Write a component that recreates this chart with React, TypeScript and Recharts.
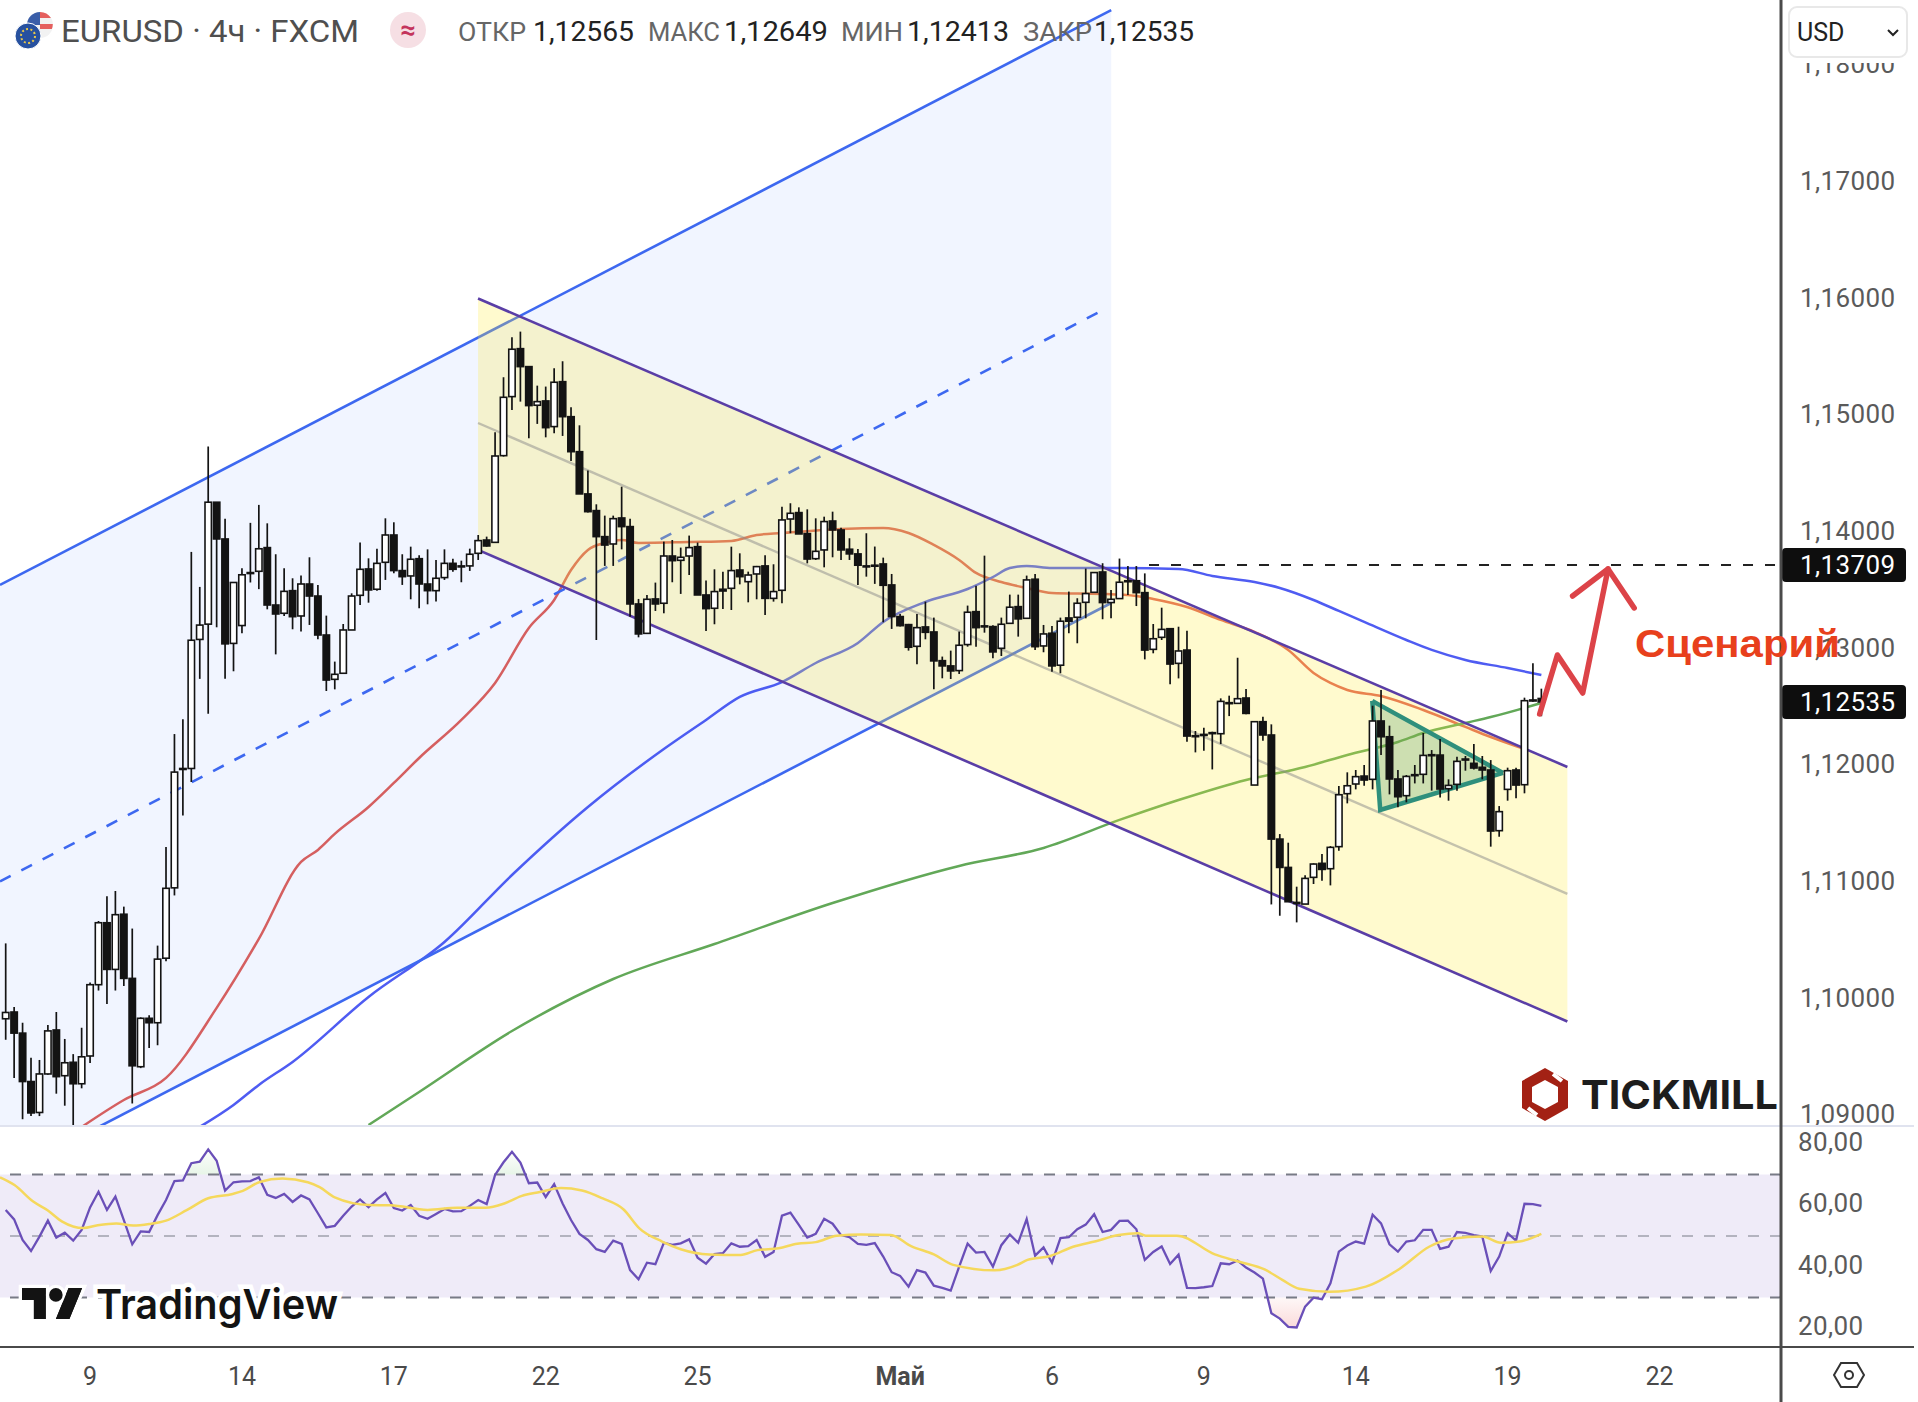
import React from 'react';
import {
  ComposedChart, Bar, Line, Area, XAxis, YAxis, ReferenceArea, ReferenceLine,
} from 'recharts';

// all prices below are in 1e-5 units, [open, high, low, close]
const candles = [
  [109820,110466,109640,109874],[109878,109920,109313,109697],[109697,109786,108959,109282],[109282,109486,108986,109013],
  [109017,109467,108986,109347],[109347,109766,109340,109716],[109724,109878,109178,109324],[109332,109647,109075,109443],
  [109447,109517,108880,109263],[109263,109743,109224,109494],[109501,110131,109440,110112],[110112,110658,110062,110643],
  [110643,110869,109947,110243],[110243,110915,110062,110712],[110716,110781,110101,110166],[110166,110593,109094,109417],
  [109409,109832,109397,109824],[109824,109851,109570,109786],[109786,110447,109593,110331],[110339,111292,110312,110938],
  [110942,112260,110877,111934],[111965,112387,111561,111957],[111965,113821,111849,113064],[113071,113521,112733,113194],
  [113202,114724,112433,114247],[114247,114247,113175,113932],[113932,114105,112733,113033],[113037,113559,112798,113559],
  [113190,113682,113125,113625],[113644,114070,113559,113636],[113655,114224,113502,113848],[113858,114066,113329,113366],
  [113366,113801,112943,113289],[113295,113681,113272,113483],[113489,113595,113158,113266],[113272,113618,113138,113546],
  [113546,113775,113195,113443],[113443,113538,113072,113109],[113109,113275,112629,112723],[112729,112881,112643,112772],
  [112781,113203,112781,113152],[113152,113466,113152,113443],[113449,113901,113366,113672],[113675,113766,113386,113495],
  [113501,113849,113489,113723],[113732,114109,113581,113966],[113966,114075,113638,113661],[113661,113801,113538,113609],
  [113615,113866,113415,113758],[113763,113792,113338,113546],[113546,113843,113372,113489],[113489,113752,113395,113595],
  [113601,113843,113581,113723],[113723,113763,113652,113672],[113701,113746,113561,113701],[113701,113849,113658,113801],
  [113809,113966,113752,113918],[113923,113952,113866,113872],[113903,114846,113901,114643],[114646,115318,114638,115146],
  [115152,115660,115038,115558],[115563,115709,115109,115409],[115409,115409,114795,115075],[115078,115246,114918,115109],
  [115115,115238,114803,114886],[114895,115395,114838,115275],[115280,115455,114815,114980],[114980,115060,114600,114680],
  [114680,114906,114318,114318],[114318,114518,114158,114166],[114175,114229,113066,113952],[113952,114132,113701,113880],
  [113889,114132,113701,114106],[114112,114380,113843,114038],[114038,114106,113266,113375],[113375,113418,113089,113118],
  [113123,113452,113118,113415],[113418,113558,113315,113375],[113381,113909,113295,113786],[113786,113923,113561,113746],
  [113749,113858,113461,113775],[113786,113961,113623,113858],[113866,113901,113452,113452],[113452,113575,113143,113335],
  [113338,113672,113201,113481],[113501,113652,113332,113486],[113509,113866,113323,113661],[113666,113809,113543,113609],
  [113566,113652,113389,113623],[113632,113701,113415,113695],[113701,113792,113281,113423],[113423,113715,113395,113481],
  [113492,114209,113381,114095],[114103,114238,113981,114152],[114158,114203,113975,113975],[113978,114186,113723,113760],
  [113763,114109,113752,113826],[113838,114123,113689,114081],[114086,114166,113775,114009],[114009,114029,113752,113838],
  [113844,113938,113752,113804],[113804,113847,113538,113707],[113701,113981,113609,113698],[113707,113867,113547,113704],
  [113718,113772,113218,113535],[113538,113632,113161,113267],[113267,113289,113181,113189],[113198,113204,112975,113004],
  [113012,113289,112858,113172],[113178,113395,113072,113132],[113135,113258,112644,112887],[112889,112924,112738,112844],
  [112844,112975,112732,112801],[112804,113138,112775,113021],[113027,113361,113009,113304],[113309,113532,113009,113172],
  [113187,113789,113129,113181],[113181,113192,112909,112964],[112995,113258,112929,113201],[113209,113455,113209,113347],
  [113352,113455,113095,113247],[113252,113618,113252,113581],[113587,113632,112981,113009],[113015,113195,112961,113118],
  [113124,113187,112795,112844],[112850,113258,112781,113227],[113255,113481,113124,113227],[113261,113424,113038,113381],
  [113389,113678,113252,113464],[113475,113644,113475,113644],[113649,113724,113244,113387],[113387,113495,113252,113415],
  [113421,113764,113418,113561],[113574,113700,113452,113574],[113574,113700,113357,113472],[113472,113637,112900,112980],
  [112986,113203,112952,113077],[113089,113343,113066,113157],[113163,113169,112686,112860],[112866,113180,112737,112972],
  [112980,113146,112194,112243],[112246,112286,112103,112240],[112257,112315,112117,112255],[112272,112280,111957,112268],
  [112263,112566,112174,112540],[112529,112589,112414,112523],[112523,112914,112523,112563],[112569,112646,112429,112437],
  [111823,112372,111823,112366],[112366,112409,112203,112252],[112252,112343,110800,111360],[111360,111403,110703,111117],
  [111117,111329,110823,110823],[110817,110952,110646,110813],[110803,111049,110803,111023],[111032,111152,110975,111146],
  [111152,111232,111003,111100],[111106,111300,110963,111289],[111295,111815,111260,111740],[111749,111932,111666,111817],
  [111832,111952,111786,111895],[111900,111995,111817,111866],[111872,112503,111786,112372],[112372,112637,112080,112237],
  [112237,112332,111743,111875],[111875,111952,111632,111723],[111732,111909,111675,111897],[111912,111995,111837,111908],
  [111915,112269,111837,112077],[112083,112123,111775,112080],[112080,112217,111717,111789],[111792,111872,111689,111820],
  [111829,112066,111775,112026],[112046,112072,111946,112042],[112009,112175,111957,111969],[111975,112072,111872,111952],
  [111952,112037,111295,111429],[111432,111643,111380,111595],[111786,111972,111689,111946],[111952,111972,111709,111823],
  [111826,112572,111752,112546],[112552,112866,112537,112546],[112565,112649,112413,112535],
];

// moving averages, [candle index, price]
const maFast = [
  [9,108893],[14,109124],[19,109313],[25,109913],[30,110504],[35,111164],[37,111267],[39,111404],[43,111635],[46,111841],[49,112055],
  [54,112381],[58,112698],[62,113169],[65,113409],[67,113666],[69,113838],[71,113898],[73,113923],[75,113898],[81,113906],
  [86,113915],[89,113966],[92,113983],[99,114018],[104,114026],[107,113983],[110,113881],[113,113752],[115,113641],[118,113563],
  [121,113512],[124,113469],[130,113461],[134,113443],[136,113418],[140,113349],[144,113238],[148,113135],[152,112981],[155,112784],
  [157,112698],[159,112638],[163,112586],[168,112466],[173,112321],[176,112235],[180,112132],
];
const maMid = [
  [23,108893],[27,109081],[30,109253],[34,109450],[43,110007],[52,110478],[60,111052],[69,111635],[78,112132],[83,112381],
  [87,112578],[92,112706],[96,112869],[101,113041],[104,113221],[109,113392],[114,113503],[117,113606],[119,113683],[121,113701],
  [124,113683],[132,113683],[139,113675],[143,113615],[148,113563],[151,113512],[155,113409],[158,113315],[161,113221],[166,113066],
  [169,112981],[173,112895],[178,112826],[182,112766],
];
const maSlow = [
  [43,108910],[49,109193],[60,109715],[72,110161],[84,110461],[98,110812],[113,111130],[123,111284],[132,111524],[139,111695],
  [147,111867],[154,111978],[159,112081],[165,112192],[168,112269],[173,112355],[176,112406],[182,112526],
];

// drawings, [candle index, price]
const blueUpper = [[-0.676,113538],[131.02,118465]];
const blueMiddle = [[-0.676,110997],[129.84,115886]];
const blueLower = [[-0.676,108456],[131.02,113383]];
const yellowUpper = [[55.98,115993],[185.08,111978]];
const yellowMiddle = [[55.98,114926],[185.08,110890]];
const yellowLower = [[55.98,113838],[185.08,109797]];
const triangle = [[161.96,112544,112544],[162.9,111609,112506],[177.45,111927,111927]];
const levelLine = [[135.5,113709],[210.4,113709]];
const arrowBody = [[181.8,112432],[183.9,112938],[186.9,112612],[189.9,113675]];
const arrowHead = [[185.7,113443],[189.9,113675],[193,113341]];

const priceTicks = [1.09,1.10,1.11,1.12,1.13,1.14,1.15,1.16,1.17,1.18];
const priceBadges = [1.13709,1.12535];

// RSI pane
const rsi = [
  58.5,55.4,48.7,45.1,49.8,55.0,49.5,51.1,48.5,52.0,59.3,64.4,58.5,62.8,55.2,47.3,51.5,51.3,56.8,61.7,
  67.9,68.1,73.7,74.2,78.2,74.5,64.8,67.5,67.8,67.9,69.1,63.4,62.4,63.7,61.1,63.2,61.9,57.4,52.8,53.3,
  56.6,59.6,61.9,59.4,61.9,64.0,59.1,58.3,60.1,56.6,55.6,57.2,58.8,58.0,58.1,59.8,61.7,60.4,69.9,74.0,
  77.4,73.9,67.2,67.4,62.7,66.9,60.6,55.2,50.7,48.7,45.7,44.8,48.5,47.4,38.9,35.9,41.3,40.8,47.8,47.1,
  47.6,48.9,42.9,41.0,44.1,44.4,47.6,46.5,46.7,48.7,43.2,44.8,56.6,57.6,53.6,49.5,50.7,55.6,54.0,50.3,
  49.6,47.4,47.1,47.7,43.3,38.2,37.0,33.5,38.9,38.1,33.8,33.1,32.2,40.0,47.5,44.6,44.8,40.0,47.0,50.5,
  47.8,55.5,43.6,46.3,41.3,49.3,49.6,52.2,53.7,57.1,51.3,52.0,54.9,55.0,52.2,42.2,44.8,46.6,40.9,43.9,
  33.1,33.0,33.3,33.7,41.1,40.8,42.0,39.7,38.1,36.1,24.8,23.1,20.4,20.2,27.0,29.9,29.4,34.6,44.9,46.9,
  48.2,47.5,56.9,54.1,47.3,44.9,48.2,48.6,52.0,52.0,45.8,46.5,51.3,51.0,50.3,49.8,38.6,43.3,50.9,48.5,
  60.5,60.4,59.8,
];
const rsiMa = [
  [-0.676,69.1],[1.04,66.6],[3.26,61.2],[5,58.3],[6.7,54.7],[9.2,52.6],[10.9,53.5],[13.1,54.1],[15.1,53.4],[17,53.9],
  [19,55.0],[21.5,58.5],[24,62.3],[26.9,63.7],[28.1,64.7],[30.1,67.6],[32.8,68.7],[35.8,67.5],[37.2,65.9],[39,62.6],
  [43.1,60.1],[45.6,60.0],[50,58.5],[53.5,59.2],[56.9,59.2],[59.1,60.6],[61.1,63.0],[63.3,64.3],[65.8,65.6],[68.3,64.8],
  [70.7,62.3],[73.2,58.7],[75.1,52.5],[77.8,48.2],[80,45.7],[83.4,44.0],[87.1,43.8],[89.1,45.4],[91.6,46.0],[93.8,47.5],
  [96,48.0],[98.5,50.1],[101.4,50.5],[104.9,50.3],[107.3,46.7],[110,44.0],[112.3,40.6],[117.2,38.8],[119.9,40.6],[121.1,42.2],
  [123.8,43.5],[126.5,46.5],[129.2,48.3],[131.9,50.3],[134.2,50.9],[135.1,50.1],[138.8,50.1],[143.3,44.0],[146.2,41.6],[149.2,39.1],
  [151.3,35.7],[153.3,32.8],[156.9,31.8],[161.2,33.5],[165.3,39.5],[168.7,46.5],[171.6,49.2],[175,49.8],[177.2,47.8],[179.4,48.2],
  [182,50.7],
];
const overbought1 = [[21.34,70],[22,73.7],[23,74.2],[24,78.2],[25,74.5],[25.47,70]];
const overbought2 = [[58.01,70],[59,74.0],[60,77.4],[61,73.9],[61.58,70]];
const oversold = [[149.54,30],[150,24.8],[151,23.1],[152,20.4],[153,20.2],[154,27.0],[155,29.9],[156,29.4],[156.1,30]];
const rsiTicks = [20,40,60,80];

const timeTicks = [10,28,46,64,82,106,124,142,160,178,196];
const timeLabels = ['9','14','17','22','25','Май','6','9','14','19','22'];

const px = (v: number) => v / 100000;
const points = (list: number[][]) => list.map(([x, v]) => ({ x, v: px(v) }));
const plain = (list: number[][]) => list.map(([x, v]) => ({ x, v }));

const candleRows = candles.map(([o, h, l, c], i) => ({
  x: i, open: px(o), high: px(h), low: px(l), close: px(c), range: [px(l), px(h)],
}));
const rsiRows = rsi.map((v, x) => ({ x, v }));
const blueBand = blueUpper.map(([x, v], i) => ({ x, range: [px(blueLower[i][1]), px(v)] }));
const yellowBand = yellowUpper.map(([x, v], i) => ({ x, range: [px(yellowLower[i][1]), px(v)] }));
const triangleRows = triangle.map(([x, a, b]) => ({ x, range: [px(a), px(b)] }));
const fillHigh = (list: number[][]) => list.map(([x, v]) => ({ x, range: [70, v] }));
const fillLow = (list: number[][]) => list.map(([x, v]) => ({ x, range: [v, 30] }));

const FONT = 'Roboto, sans-serif';
const AXIS_X = 1781;
const X_DOMAIN = [-0.676, 210.4];

function Candle(props: any) {
  const { x, y, width, height, payload } = props;
  const { open, high, low, close } = payload;
  const perUnit = height / (high - low || 1);
  const top = y + (high - Math.max(open, close)) * perUnit;
  const bottom = y + (high - Math.min(open, close)) * perUnit;
  const cx = x + width / 2;
  const up = close >= open;
  return (
    <g>
      <line x1={cx} x2={cx} y1={y} y2={y + height} stroke="#131313" strokeWidth={1.7} />
      <rect x={cx - 3.2} y={top} width={6.4} height={Math.max(bottom - top, 1)}
        fill={up ? '#ffffff' : '#131313'} stroke="#131313" strokeWidth={1.6} />
    </g>
  );
}

function PriceTick(props: any) {
  const { y, payload } = props;
  const text = payload.value.toFixed(5).replace('.', ',');
  if (priceBadges.includes(payload.value)) {
    return (
      <g>
        <rect x={AXIS_X + 1} y={y - 17} width={124} height={34} rx={4} fill="#0e0e0e" />
        <text x={AXIS_X + 19} y={y + 9} fontFamily={FONT} fontSize={26} fill="#ffffff" letterSpacing={0.4}>{text}</text>
      </g>
    );
  }
  return <text x={AXIS_X + 19} y={y + 9} fontFamily={FONT} fontSize={26} fill="#5a5a5a" letterSpacing={0.4}>{text}</text>;
}

function RsiTick(props: any) {
  const { y, payload } = props;
  return (
    <text x={AXIS_X + 17} y={y + 7} fontFamily={FONT} fontSize={26} fill="#5a5a5a" letterSpacing={0.4}>
      {payload.value.toFixed(2).replace('.', ',')}
    </text>
  );
}

function TimeTick(props: any) {
  const { x, payload } = props;
  const label = timeLabels[timeTicks.indexOf(payload.value)];
  return (
    <text x={x} y={258} textAnchor="middle" fontFamily={FONT} fontSize={25}
      fontWeight={label === 'Май' ? 700 : 400} fill="#4a4a4a">{label}</text>
  );
}

function Overlay() {
  return (
    <svg width={1918} height={1402} style={{ position: 'absolute', left: 0, top: 0, pointerEvents: 'none' }}>
      {/* pane borders */}
      <line x1={0} x2={1914} y1={1126} y2={1126} stroke="#e0e3ef" strokeWidth={2} />
      <line x1={0} x2={1914} y1={1347} y2={1347} stroke="#4a4a4a" strokeWidth={2} />
      <line x1={AXIS_X} x2={AXIS_X} y1={0} y2={1402} stroke="#4a4a4a" strokeWidth={3} />

      {/* symbol icon */}
      <circle cx={40} cy={25} r={13} fill="#f2f2f2" />
      <path d="M40 12a13 13 0 0 1 11 6H40zM40 24h12.800a13 13 0 0 1-1 5H40z" fill="#e5605e" />
      <path d="M27 25a13 13 0 0 1 13-13v13z" fill="#3a5ea8" />
      <circle cx={28} cy={36} r={13} fill="#27519f" stroke="#ffffff" strokeWidth={1} />
      <circle cx={28} cy={36} r={7} fill="none" stroke="#e9c84a" strokeWidth={2} strokeDasharray="2 2.4" />

      {/* header */}
      <text x={61} y={42} textLength={298} lengthAdjust="spacingAndGlyphs" fontFamily={FONT} fontSize={31} fill="#4f4f4f">EURUSD · 4ч · FXCM</text>
      <circle cx={408} cy={30} r={18} fill="#f6dfe4" />
      <text x={408} y={39} textAnchor="middle" fontFamily={FONT} fontSize={27} fontWeight={700} fill="#c4345c">≈</text>
      <text x={458} y={41} textLength={68} lengthAdjust="spacingAndGlyphs" fontFamily={FONT} fontSize={26} fill="#666666">ОТКР</text>
      <text x={533} y={41} textLength={101} lengthAdjust="spacingAndGlyphs" fontFamily={FONT} fontSize={27} fill="#222222">1,12565</text>
      <text x={648} y={41} textLength={72} lengthAdjust="spacingAndGlyphs" fontFamily={FONT} fontSize={26} fill="#666666">МАКС</text>
      <text x={724} y={41} textLength={104} lengthAdjust="spacingAndGlyphs" fontFamily={FONT} fontSize={27} fill="#222222">1,12649</text>
      <text x={841} y={41} textLength={62} lengthAdjust="spacingAndGlyphs" fontFamily={FONT} fontSize={26} fill="#666666">МИН</text>
      <text x={907} y={41} textLength={102} lengthAdjust="spacingAndGlyphs" fontFamily={FONT} fontSize={27} fill="#222222">1,12413</text>
      <text x={1023} y={41} textLength={69} lengthAdjust="spacingAndGlyphs" fontFamily={FONT} fontSize={26} fill="#666666">ЗАКР</text>
      <text x={1094} y={41} textLength={100} lengthAdjust="spacingAndGlyphs" fontFamily={FONT} fontSize={27} fill="#222222">1,12535</text>

      {/* currency box */}
      <rect x={1785} y={0} width={126} height={63} fill="#ffffff" />
      <rect x={1789} y={7} width={118} height={50} rx={8} fill="#ffffff" stroke="#e8e8e8" strokeWidth={2} />
      <text x={1797} y={41} fontFamily={FONT} fontSize={25} fill="#222222">USD</text>
      <path d="M1888 30l5 5 5-5" fill="none" stroke="#222222" strokeWidth={2} />

      {/* scenario label */}
      <text x={1635} y={657} textLength={205} lengthAdjust="spacingAndGlyphs" fontFamily="'Liberation Sans', sans-serif" fontSize={38} fontWeight={700} fill="#e8401c">Сценарий</text>

      {/* tickmill */}
      <g transform="translate(1522,1068)">
        <polygon points="23,0 46,13 46,40 23,53 0,40 0,13" fill="#a32114" />
        <polygon points="23,12 36,19 36,34 23,41 10,34 10,19" fill="#ffffff" />
        <path d="M31 6L40 13M6 40L15 47" stroke="#ffffff" strokeWidth={4} />
      </g>
      <text x={1581} y={1109} textLength={197} lengthAdjust="spacingAndGlyphs" fontFamily="Inter, sans-serif" fontSize={40} fontWeight={700} fill="#1d1d1d">TICKMILL</text>

      {/* tradingview */}
      <svg x={18} y={1284} width={69} height={39} viewBox="-2.400 1.600 40.800 22.800" preserveAspectRatio="none">
        <path d="M14 22H7V11H0V4h14v18zM28 22h-8l7.500-18h8L28 22z" fill="#131313" stroke="#ffffff" strokeWidth={4} paintOrder="stroke" />
        <circle cx={20} cy={8} r={4} fill="#131313" stroke="#ffffff" strokeWidth={4} paintOrder="stroke" />
        <path d="M14 22H7V11H0V4h14v18zM28 22h-8l7.500-18h8L28 22z" fill="#131313" />
      </svg>
      <text x={96} y={1319} textLength={242} lengthAdjust="spacingAndGlyphs" fontFamily="Inter, sans-serif" fontSize={41} fontWeight={600} fill="#131313" stroke="#ffffff" strokeWidth={9} paintOrder="stroke">TradingView</text>

      {/* settings icon */}
      <polygon points="1834,1375 1841,1363 1857,1363 1864,1375 1857,1387 1841,1387" fill="none" stroke="#333333" strokeWidth={2} />
      <circle cx={1849} cy={1375} r={4} fill="none" stroke="#333333" strokeWidth={2} />
    </svg>
  );
}

const lineBase = { dataKey: 'v', dot: false, activeDot: false, isAnimationActive: false } as any;
const areaBase = { dataKey: 'range', type: 'linear', dot: false, activeDot: false, isAnimationActive: false } as any;

export default function App() {
  return (
    <div style={{ position: 'absolute', left: 0, top: 0, width: 1918, height: 1402, background: '#ffffff', overflow: 'hidden' }}>
      <div style={{ position: 'absolute', left: 0, top: 0 }}>
        <ComposedChart width={1918} height={1126} data={candleRows} margin={{ top: 0, right: 0, bottom: 0, left: 0 }}>
          <XAxis dataKey="x" type="number" domain={X_DOMAIN} allowDataOverflow hide />
          <YAxis orientation="right" width={137} domain={[1.08901, 1.18551]} allowDataOverflow
            ticks={[...priceTicks, ...priceBadges]} interval={0} tick={<PriceTick />} tickLine={false} axisLine={false} />

          <Line {...lineBase} zIndex={101} data={points(maFast)} type="monotone" stroke="#e25f55" strokeWidth={2.5} />
          <Line {...lineBase} zIndex={102} data={points(maMid)} type="monotone" stroke="#4f5cf2" strokeWidth={2.5} />
          <Line {...lineBase} zIndex={103} data={points(maSlow)} type="monotone" stroke="#62a858" strokeWidth={2.5} />

          <Area {...areaBase} zIndex={104} data={blueBand} stroke="none" fill="#2962ff" fillOpacity={0.065} />
          <Line {...lineBase} zIndex={105} data={points(blueUpper)} type="linear" stroke="#3d68f0" strokeWidth={2.6} />
          <Line {...lineBase} zIndex={105} data={points(blueMiddle)} type="linear" stroke="#3d68f0" strokeWidth={2.6} strokeDasharray="12 12" />
          <Line {...lineBase} zIndex={105} data={points(blueLower)} type="linear" stroke="#3d68f0" strokeWidth={2.6} />

          <Area {...areaBase} zIndex={106} data={yellowBand} stroke="none" fill="#ffeb3b" fillOpacity={0.25} />
          <Line {...lineBase} zIndex={107} data={points(yellowMiddle)} type="linear" stroke="#8a8a8a" strokeOpacity={0.5} strokeWidth={2.4} />
          <Line {...lineBase} zIndex={107} data={points(yellowUpper)} type="linear" stroke="#5a3ea6" strokeWidth={2.6} />
          <Line {...lineBase} zIndex={107} data={points(yellowLower)} type="linear" stroke="#5a3ea6" strokeWidth={2.6} />

          <Area {...areaBase} zIndex={108} data={triangleRows} stroke="#2f8f7c" strokeWidth={4.5} fill="#2e8b57" fillOpacity={0.24} />
          <Line {...lineBase} zIndex={109} data={points(levelLine)} type="linear" stroke="#222222" strokeWidth={2} strokeDasharray="10 12" />

          <Bar zIndex={110} dataKey="range" barSize={7} shape={<Candle />} isAnimationActive={false} />

          <Line {...lineBase} zIndex={111} data={points(arrowBody)} type="linear" stroke="#dc4348" strokeWidth={5.5} strokeLinejoin="round" strokeLinecap="round" />
          <Line {...lineBase} zIndex={111} data={points(arrowHead)} type="linear" stroke="#dc4348" strokeWidth={5.5} strokeLinejoin="round" strokeLinecap="round" />
        </ComposedChart>
      </div>

      <div style={{ position: 'absolute', left: 0, top: 1127 }}>
        <ComposedChart width={1918} height={275} data={rsiRows} margin={{ top: 0, right: 0, bottom: 0, left: 0 }}>
          <defs>
            <linearGradient id="rsiHigh" x1="0" y1="0" x2="0" y2="1">
              <stop offset="0%" stopColor="#4caf50" stopOpacity={0.02} />
              <stop offset="100%" stopColor="#4caf50" stopOpacity={0.22} />
            </linearGradient>
            <linearGradient id="rsiLow" x1="0" y1="0" x2="0" y2="1">
              <stop offset="0%" stopColor="#e53935" stopOpacity={0.06} />
              <stop offset="100%" stopColor="#e53935" stopOpacity={0.3} />
            </linearGradient>
          </defs>
          <XAxis dataKey="x" type="number" domain={X_DOMAIN} allowDataOverflow height={55}
            ticks={timeTicks} interval={0} tick={<TimeTick />} tickLine={false} axisLine={false} />
          <YAxis orientation="right" width={137} domain={[13.84, 85.5]} allowDataOverflow
            ticks={rsiTicks} interval={0} tick={<RsiTick />} tickLine={false} axisLine={false} />

          <ReferenceArea y1={30} y2={70} fill="#7e57c2" fillOpacity={0.12} stroke="none" />
          <ReferenceLine y={70} stroke="#787b86" strokeWidth={2} strokeDasharray="11 11" />
          <ReferenceLine y={50} stroke="#787b86" strokeOpacity={0.5} strokeWidth={2} strokeDasharray="11 11" />
          <ReferenceLine y={30} stroke="#787b86" strokeWidth={2} strokeDasharray="11 11" />

          <Area {...areaBase} data={fillHigh(overbought1)} stroke="none" fill="url(#rsiHigh)" />
          <Area {...areaBase} data={fillHigh(overbought2)} stroke="none" fill="url(#rsiHigh)" />
          <Area {...areaBase} data={fillLow(oversold)} stroke="none" fill="url(#rsiLow)" />

          <Line {...lineBase} type="linear" stroke="#6a4fb8" strokeWidth={2.3} />
          <Line {...lineBase} data={plain(rsiMa)} type="monotone" stroke="#f5d85c" strokeWidth={2.5} />
        </ComposedChart>
      </div>

      <Overlay />
    </div>
  );
}
